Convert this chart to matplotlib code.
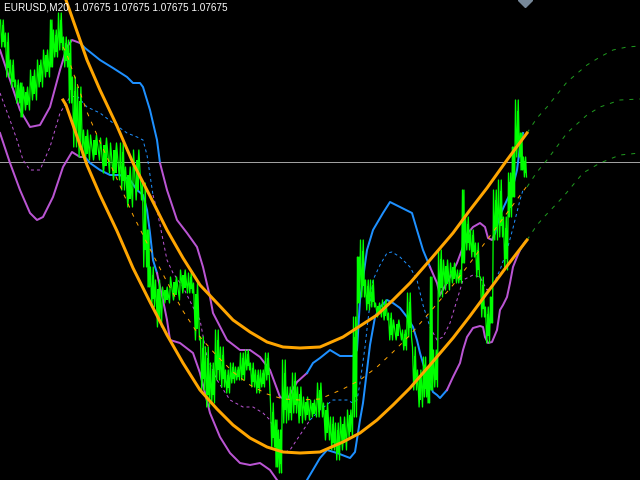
import numpy as np
import matplotlib.pyplot as plt

# Values: x = bar pixel column, y = pixel row (0 = top)

# price bars, grouped in short runs: left edge, highest row, lowest row
price_x = [0, 5, 10, 15, 20, 23, 30, 37, 43, 50, 53, 58, 63, 68, 72, 77, 83, 90, 100, 110,
           120, 125, 133, 142, 147, 150, 155, 162, 170, 180, 188, 193, 200, 205, 210, 215, 220,
           225, 230, 235, 240, 245, 250, 255, 260, 265, 270, 275, 278, 282, 287, 292, 297, 303,
           310, 317, 323, 330, 335, 340, 347, 353, 357, 360, 365, 370, 375, 382, 388, 393, 402,
           407, 412, 417, 423, 427, 430, 433, 438, 443, 450, 457, 462, 465, 470, 475, 480, 485,
           490, 493, 498, 503, 508, 512, 515, 520, 523]
price_high = [20, 33, 60, 80, 83, 87, 70, 60, 50, 20, 30, 13, 37, 40, 77, 87, 130, 135, 138, 143,
              143, 167, 150, 183, 230, 267, 280, 287, 277, 270, 273, 283, 337, 347, 363, 330, 347,
              370, 363, 367, 353, 350, 363, 370, 370, 353, 403, 420, 430, 360, 387, 373, 387, 397,
              400, 383, 403, 417, 423, 417, 410, 317, 257, 240, 280, 280, 303, 300, 313, 320, 330,
              293, 347, 370, 357, 367, 277, 350, 250, 260, 263, 270, 190, 217, 230, 243, 277, 307,
              297, 190, 180, 217, 173, 147, 100, 133, 157]
price_low = [47, 77, 87, 103, 117, 110, 100, 87, 77, 67, 57, 50, 67, 103, 147, 157, 160, 160, 173, 180,
             190, 207, 200, 267, 287, 307, 327, 303, 300, 293, 293, 340, 390, 407, 403, 380, 387,
             393, 383, 380, 380, 370, 387, 393, 387, 380, 447, 467, 473, 423, 420, 413, 423, 420,
             417, 417, 440, 450, 460, 450, 437, 417, 303, 297, 310, 307, 317, 320, 340, 340, 350,
             337, 390, 407, 397, 403, 390, 387, 297, 290, 283, 283, 263, 250, 257, 277, 317, 343,
             323, 240, 237, 270, 217, 197, 157, 170, 177]
price_end = 527

# regression channel (orange)
chan_x = [63, 66, 87, 100, 117, 133, 150, 167, 183, 200, 217, 233, 250, 267, 283, 300, 320, 343,
          360, 377, 393, 410, 430, 453, 470, 487, 507, 527]
chan_upper = [-6, 0, 60, 90, 126, 163, 196, 230, 258, 285, 303, 320, 332, 342, 347, 348, 347, 337,
              326, 315, 300, 283, 260, 233, 210, 188, 160, 133]
chan_mid = [47, 52, 112, 142, 179, 215, 249, 282, 311, 337, 356, 372, 385, 394, 399, 400, 399, 389,
            380, 367, 352, 335, 312, 285, 263, 240, 213, 186]
chan_lower = [100, 105, 165, 195, 231, 268, 302, 335, 363, 390, 409, 425, 438, 447, 452, 453, 452, 442,
              433, 420, 405, 388, 365, 338, 316, 293, 266, 240]

# channel projection (green dashed)
proj_upper_x = [527, 537, 547, 567, 587, 600, 613, 627, 640]
proj_upper_y = [133, 118, 107, 82, 65, 57, 50, 47, 46]
proj_mid_x = [527, 537, 547, 567, 587, 600, 620, 640]
proj_mid_y = [187, 172, 160, 133, 115, 107, 100, 99]
proj_lower_x = [527, 537, 545, 563, 583, 600, 620, 640]
proj_lower_y = [240, 225, 216, 197, 173, 163, 155, 153]

# envelope bands, colour code per point: b = blue, v = violet
band_up_x = [0, 10, 20, 30, 40, 50, 60, 67, 72, 80, 85, 100, 113, 127, 133, 140, 143, 150, 157, 160,
             167, 177, 187, 197, 203, 210, 213, 227, 240, 250, 260, 270, 280, 287, 297, 307, 313, 320,
             330, 340, 353, 357, 360, 367, 373, 383, 390, 400, 412, 417, 423, 430, 437, 440, 450, 457,
             463, 468, 473, 480, 485, 488, 492, 495, 500, 507, 512, 517, 520, 523]
band_up_y = [50, 80, 110, 127, 125, 107, 70, 47, 40, 43, 48, 60, 68, 77, 83, 83, 87, 110, 140, 163,
             190, 220, 233, 247, 267, 297, 313, 340, 350, 350, 357, 370, 397, 400, 382, 373, 363, 358,
             350, 356, 356, 350, 300, 250, 230, 213, 202, 207, 213, 230, 250, 267, 283, 295, 277, 263,
             247, 233, 227, 223, 227, 238, 240, 233, 215, 200, 190, 170, 147, 133]
band_up_c = "vvvvvvvvvv" + "bbbbbbbbbb" + "vvvvvvvvvvvvvvvv" + "bbbbbbbbbbbbbbbb" + "vvvvvvvvvvvv" + "bbbbbb"

band_lo_x = [0, 10, 20, 30, 37, 43, 53, 63, 72, 80, 85, 90, 100, 110, 120, 130, 137, 143, 147,
             150, 153, 157, 160, 163, 167, 170, 180, 193, 200, 210, 220, 230, 240, 250, 260, 270, 277,
             287, 300, 307, 320, 327, 337, 350, 355, 360, 363, 367, 370, 375, 380, 387, 393, 400, 407,
             413, 417, 420, 427, 433, 437, 440, 447, 453, 460, 463, 467, 473, 480, 483, 485, 488, 492,
             497, 500, 503, 507, 510, 513, 517, 520, 525]
band_lo_y = [133, 163, 190, 213, 220, 217, 197, 167, 152, 157, 157, 163, 170, 175, 175, 180, 190,
             195, 210, 233, 260, 273, 287, 300, 320, 340, 343, 353, 373, 413, 437, 453, 463, 465, 463,
             470, 480, 492, 492, 480, 458, 450, 453, 458, 452, 420, 403, 370, 345, 317, 307, 300, 303,
             308, 317, 327, 340, 353, 377, 392, 395, 398, 390, 377, 363, 350, 337, 328, 326, 327, 337,
             343, 342, 330, 310, 305, 297, 283, 267, 257, 250, 242]
band_lo_c = "vvvvvvvvvvv" + "bbbbbbbbbbb" + "vvvvvvvvvvvvvvvv" + "bbbbbbbbbbbbbbbbbbbbbbbbb" + "vvvvvvvvvvvvvvvvvv" + "bbbbbb"

band_mid_x = [0, 10, 17, 23, 30, 40, 50, 60, 70, 77, 87, 100, 113, 127, 137, 143, 147, 150, 153, 157, 163,
              167, 173, 183, 193, 200, 207, 217, 230, 243, 253, 263, 270, 277, 283, 290, 300, 310, 320,
              333, 347, 353, 357, 360, 365, 368, 373, 380, 387, 392, 400, 410, 417, 423, 430, 437, 443,
              450, 457, 463, 473, 480, 487, 493, 500, 507, 513, 520, 523]
band_mid_y = [93, 120, 140, 160, 170, 170, 147, 113, 97, 96, 107, 113, 123, 133, 137, 140, 155, 175, 195,
              210, 240, 260, 273, 287, 307, 320, 357, 380, 400, 407, 407, 413, 420, 437, 453, 450, 435,
              420, 410, 400, 400, 403, 400, 383, 347, 320, 280, 265, 253, 252, 257, 267, 280, 305, 327,
              340, 337, 323, 300, 280, 275, 277, 290, 285, 270, 250, 228, 200, 190]
band_mid_c = "vvvvvvvvvv" + "bbbbbbbbb" + "vvvvvvvvvvvvvvvvvvv" + "bbbbbbbbbbbbbbbbb" + "vvvvvvvvv" + "bbbbb"

last_price_row = 162
title = "EURUSD,M20  1.07675 1.07675 1.07675 1.07675"

BLUE = '#1E90FF'
VIOLET = '#BA55D3'
ORANGE = '#FFA500'
GREEN = '#00FF00'
band_colors = {'b': BLUE, 'v': VIOLET}
px = 0.72  # one pixel in points at 100 dpi


def draw_band(ax, xs, ys, cs, **kw):
    # split the line into runs of the same colour, runs share their end points
    start = 0
    for i in range(1, len(xs)):
        if i == len(xs) - 1 or cs[i + 1] != cs[i]:
            ax.plot(xs[start:i + 1], ys[start:i + 1], color=band_colors[cs[i]], **kw)
            start = i


fig = plt.figure(figsize=(6.4, 4.8), dpi=100, facecolor='black')
ax = fig.add_axes([0, 0, 1, 1])
ax.set_facecolor('black')
ax.set_xlim(0, 640)
ax.set_ylim(480, 0)
ax.axis('off')

ax.axhline(last_price_row, color='#a0a0a0', lw=px, zorder=1)

draw_band(ax, band_mid_x, band_mid_y, band_mid_c, lw=px, ls=(0, (3, 3)), zorder=2)
draw_band(ax, band_up_x, band_up_y, band_up_c, lw=2 * px, zorder=2,
          solid_joinstyle='round')
draw_band(ax, band_lo_x, band_lo_y, band_lo_c, lw=2 * px, zorder=2,
          solid_joinstyle='round')

# price: a narrow core per run plus a zigzag between highs and lows for the noisy look
edges = np.array(price_x + [price_end])
widths = np.diff(edges)
hi = np.array(price_high)
lo = np.array(price_low)
ax.bar(edges[:-1] + widths * 0.3, (lo - hi) * 0.6, bottom=hi + (lo - hi) * 0.2,
       width=widths * 0.4, align='edge', color=GREEN, linewidth=0, zorder=3)
zig_x = np.column_stack([edges[:-1] + 0.5, edges[:-1] + widths * 0.35,
                         edges[:-1] + widths * 0.65, edges[:-1] + widths - 0.5]).ravel()
zig_y = np.column_stack([hi, lo, hi, lo]).ravel()
ax.plot(zig_x, zig_y, color=GREEN, lw=1.3 * px, zorder=3)

ax.plot(chan_x, chan_mid, color=ORANGE, lw=px, ls=(0, (4, 6)), zorder=4)
ax.plot(chan_x, chan_upper, color=ORANGE, lw=3 * px, zorder=4)
ax.plot(chan_x, chan_lower, color=ORANGE, lw=3 * px, zorder=4)

for xs, ys in [(proj_upper_x, proj_upper_y), (proj_mid_x, proj_mid_y), (proj_lower_x, proj_lower_y)]:
    ax.plot(xs, ys, color='#1f9a1f', lw=px, ls=(0, (4, 6)), zorder=2)

ax.plot([524.5], [0], marker='D', markersize=7, color='#778899', zorder=5)

ax.text(4, 2, title, color='white', fontsize=7.2, family='Liberation Sans',
        va='top', ha='left', zorder=6)

fig.savefig('out.png', dpi=100, facecolor='black')
